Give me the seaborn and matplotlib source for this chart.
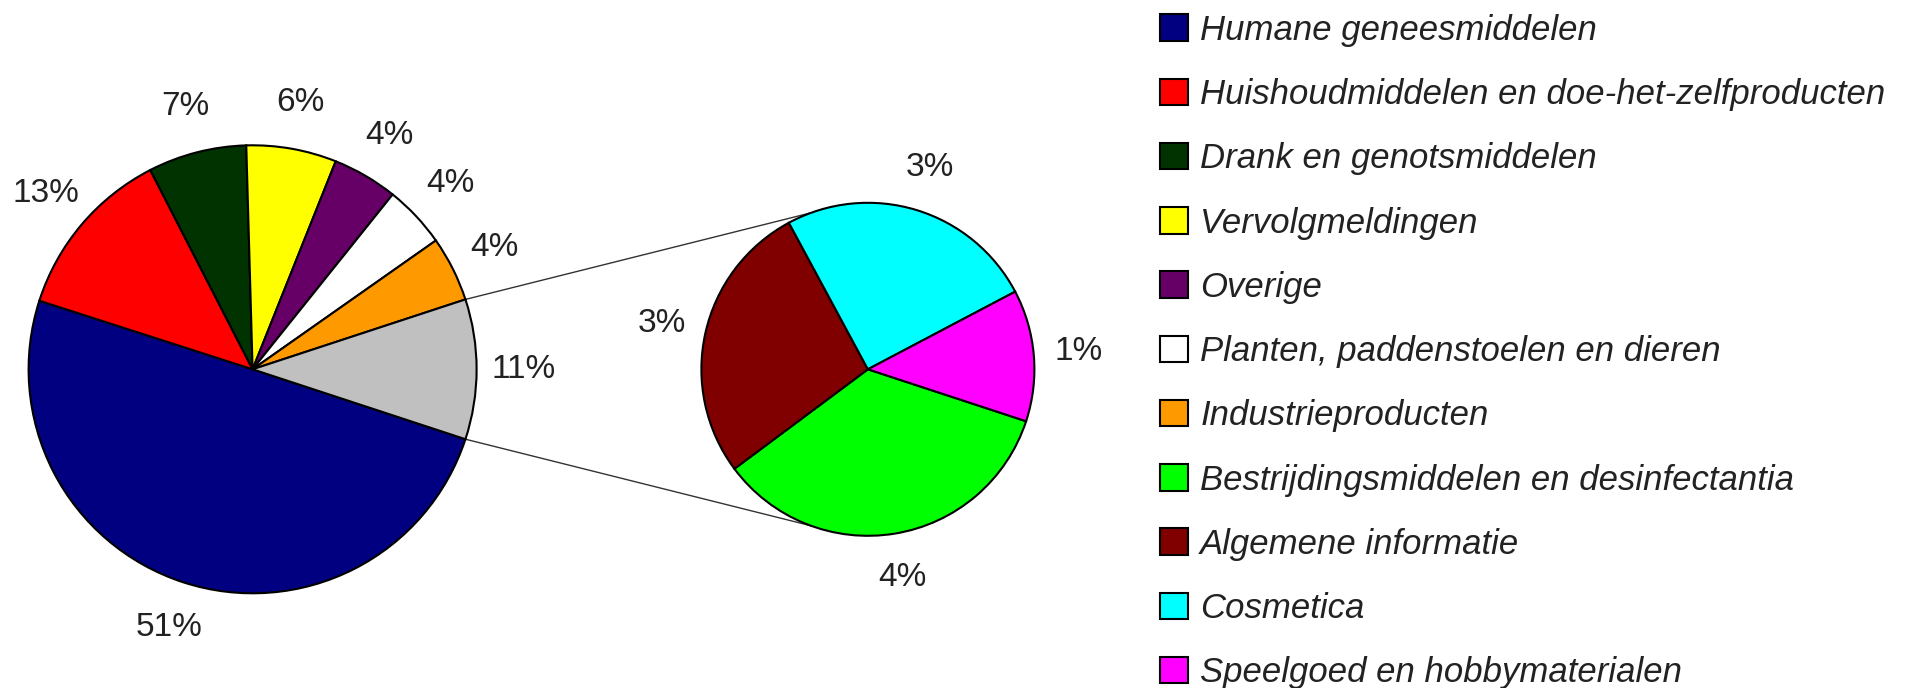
import numpy as np
import matplotlib
matplotlib.use('Agg')
import matplotlib.pyplot as plt
from matplotlib.patches import Patch
import seaborn as sns

sns.set_theme(style='white')
plt.rcParams['font.family'] = ['Liberation Sans', 'DejaVu Sans']

# Hoofdtaart (laatste stuk = uitgesplitste rest)
main_labels = ['Humane geneesmiddelen',
               'Huishoudmiddelen en doe-het-zelfproducten',
               'Drank en genotsmiddelen',
               'Vervolgmeldingen',
               'Overige',
               'Planten, paddenstoelen en dieren',
               'Industrieproducten',
               'Rest']
main_values = [49.9, 12.5, 7.1, 6.5, 4.7, 4.5, 4.7, 10.1]
main_pct = ['51%', '13%', '7%', '6%', '4%', '4%', '4%', '11%']
main_colors = ['#000080', '#FF0000', '#003300', '#FFFF00',
               '#660066', '#FFFFFF', '#FF9900', '#C0C0C0']

# Tweede taart (uitsplitsing van de rest)
sub_labels = ['Bestrijdingsmiddelen en desinfectantia',
              'Algemene informatie',
              'Cosmetica',
              'Speelgoed en hobbymaterialen']
sub_values = [3.51, 2.76, 2.54, 1.29]
sub_pct = ['4%', '3%', '3%', '1%']
sub_colors = ['#00FF00', '#800000', '#00FFFF', '#FF00FF']

W, H = 1921, 688
R_PX = 224.0            # straal hoofdtaart in pixels
MAIN_CX, MAIN_CY = 252.6, 369.3
SUB_CX_PX = 867.9
SUB_R = 166.5 / R_PX
SUB_CX = (SUB_CX_PX - MAIN_CX) / R_PX

fig = plt.figure(figsize=(W / 100, H / 100), dpi=100)
ax = fig.add_axes([0, 0, 1, 1])

wedge_kw = {'edgecolor': 'black', 'linewidth': 1.5}
text_kw = {'fontsize': 24, 'color': '#222222'}

rest_share = main_values[-1] / sum(main_values)
start = -rest_share * 360 / 2   # rest-stuk gecentreerd rechts

_, txt = ax.pie(main_values, colors=main_colors, labels=main_pct,
                startangle=start, counterclock=False, radius=1.0, center=(0, 0),
                wedgeprops=wedge_kw, labeldistance=1.21, textprops=text_kw)
for t in txt:
    t.set_ha('center')

_, txt = ax.pie(sub_values, colors=sub_colors, labels=sub_pct,
                startangle=start, counterclock=False, radius=SUB_R,
                center=(SUB_CX, 0), wedgeprops=wedge_kw, labeldistance=1.27,
                textprops=text_kw)
for t in txt:
    t.set_ha('center')

# verbindingslijnen tussen de twee taarten
half = np.deg2rad(rest_share * 360 / 2)
end = np.deg2rad(110)
for sgn in (1, -1):
    x0, y0 = np.cos(sgn * half), np.sin(sgn * half)
    x1, y1 = SUB_CX + SUB_R * np.cos(sgn * end), SUB_R * np.sin(sgn * end)
    ax.plot([x0, x1], [y0, y1], color='#333333', lw=1.0, zorder=0)

ax.set_xlim(-MAIN_CX / R_PX, (W - MAIN_CX) / R_PX)
ax.set_ylim(-(H - MAIN_CY) / R_PX, MAIN_CY / R_PX)
ax.set_aspect('auto')
ax.axis('off')

handles = [Patch(facecolor=c, edgecolor='black', linewidth=1.5, label=l)
           for l, c in zip(main_labels[:-1] + sub_labels,
                           main_colors[:-1] + sub_colors)]
fig.legend(handles=handles, loc='upper left', bbox_to_anchor=(0.604, 0.98),
           frameon=False, prop={'family': 'Liberation Sans', 'style': 'italic', 'size': 25},
           labelcolor='#222222', handlelength=0.8, handleheight=0.8,
           handletextpad=0.35, labelspacing=0.9, borderpad=0, borderaxespad=0)

fig.savefig('out.png', dpi=100)
